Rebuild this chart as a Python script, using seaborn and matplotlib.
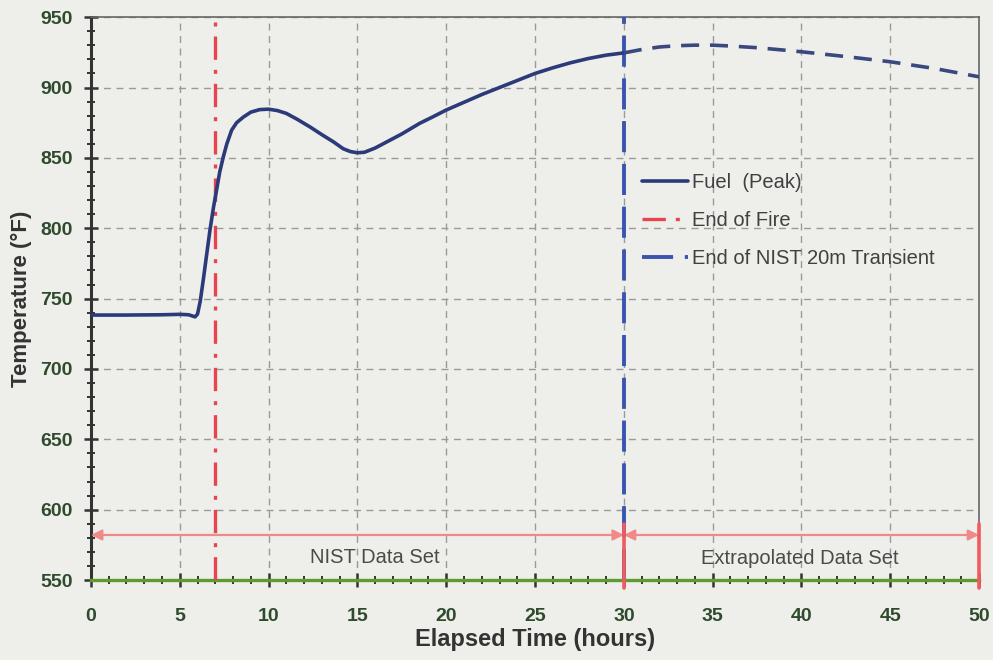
import matplotlib
matplotlib.use("Agg")
import matplotlib.pyplot as plt
from matplotlib.ticker import MultipleLocator
import seaborn as sns
import pandas as pd

# Fuel (Peak) temperature, NIST data portion (0-30 h)
hours_nist = [0, 2, 4, 5, 5.5, 5.86, 6.0, 6.15, 6.32, 6.5, 6.7, 6.9, 7.07, 7.25,
              7.45, 7.65, 7.92, 8.2, 8.58, 9.0, 9.5, 10.0, 10.5, 11.0, 11.6, 12.33,
              13.0, 13.65, 14.2, 14.6, 15.0, 15.4, 16.0, 16.6, 17.5, 18.5, 19.3,
              20, 21, 22, 23, 24, 25, 26, 27, 28, 29, 30]
temp_nist = [738.3, 738.3, 738.5, 738.8, 738.5, 737, 739, 748, 763, 780, 798.7,
             815, 827, 840, 850.7, 860, 869.7, 875, 879, 882.5, 884.3, 884.6,
             883.6, 881.6, 877.5, 872, 866.5, 861.4, 856.5, 854.5, 853.6, 854,
             857, 861, 867, 874.5, 879.5, 884, 889.5, 895, 900, 905, 910, 914,
             917.6, 920.6, 923, 924.6]

# extrapolated portion (30-50 h)
hours_extrap = [30, 31, 32, 33, 34, 35, 36, 37.5, 39, 40, 42.5, 45, 47.5, 50]
temp_extrap = [924.6, 927, 928.8, 929.7, 930.1, 930.1, 929.5, 928.3, 926.6,
               925.4, 922, 918.3, 913.5, 907.6]

end_of_fire = 7
end_of_nist = 30
x_ticks = [0, 5, 10, 15, 20, 25, 30, 35, 40, 45, 50]
y_ticks = [550, 600, 650, 700, 750, 800, 850, 900, 950]

sns.set_style("white")
plt.rcParams['font.family'] = ['Liberation Sans', 'DejaVu Sans']

bg = '#eeefeb'
fig = plt.figure(figsize=(9.93, 6.6), dpi=100, facecolor=bg)
ax = fig.add_axes([0.0916, 0.1212, 0.8944, 0.8528])
ax.set_facecolor(bg)

nist_df = pd.DataFrame({'hours': hours_nist, 'temp': temp_nist})
extrap_df = pd.DataFrame({'hours': hours_extrap, 'temp': temp_extrap})

fuel_color = '#2b3a78'
sns.lineplot(data=nist_df, x='hours', y='temp', ax=ax, color=fuel_color, lw=2.6,
             label='Fuel  (Peak)', zorder=5)
sns.lineplot(data=extrap_df, x='hours', y='temp', ax=ax, color='#3a4880', lw=2.6,
             linestyle=(0, (5, 3)), zorder=5, legend=False)

ax.axvline(end_of_fire, color='#e8434f', lw=2.4, linestyle=(0, (7, 3, 1.2, 3)),
           label='End of Fire', zorder=4)
ax.axvline(end_of_nist, color='#3b54b0', lw=2.8, linestyle=(0, (8, 3)),
           label='End of NIST 20m Transient', zorder=4)

# data set spans
arrow_y = 582
arrow_kw = dict(arrowstyle='<|-|>', color='#f08a8a', lw=1.6, mutation_scale=16,
                shrinkA=0, shrinkB=0)
ax.annotate('', xy=(0, arrow_y), xytext=(end_of_nist, arrow_y), arrowprops=arrow_kw)
ax.annotate('', xy=(end_of_nist, arrow_y), xytext=(50, arrow_y), arrowprops=arrow_kw)
for xv in [end_of_nist, 50]:
    ax.plot([xv, xv], [544, 590], color='#f05a60', lw=2.6, clip_on=False, zorder=6)
ax.text(16, 566, 'NIST Data Set', ha='center', va='center', fontsize=14.5, color='#4a4a4a')
ax.text(39.9, 565, 'Extrapolated Data Set', ha='center', va='center', fontsize=14.5,
        color='#4a4a4a')

ax.set_xlim(0, 50)
ax.set_ylim(550, 950)
ax.set_xticks(x_ticks)
ax.set_yticks(y_ticks)
ax.xaxis.set_minor_locator(MultipleLocator(1))
ax.yaxis.set_minor_locator(MultipleLocator(10))
ax.grid(True, which='major', color='#9a9a9a', linestyle=(0, (5, 4)), lw=1.0)

tick_color = '#2f4a2c'
ax.tick_params(axis='both', which='major', direction='inout', length=10, width=1.8,
               color='#333333', labelsize=14, labelcolor=tick_color, pad=8)
ax.tick_params(axis='x', which='major', pad=15)
ax.tick_params(axis='both', which='minor', direction='inout', length=6, width=1.4,
               color='#333333')
ax.tick_params(axis='x', which='both', bottom=True)
ax.tick_params(axis='y', which='both', left=True)
for lbl in ax.get_xticklabels() + ax.get_yticklabels():
    lbl.set_fontweight('bold')

ax.spines['left'].set_color('#333333')
ax.spines['left'].set_linewidth(2.2)
ax.spines['bottom'].set_color('#5f9a2e')
ax.spines['bottom'].set_linewidth(2.4)
ax.spines['top'].set_color('#666666')
ax.spines['top'].set_linewidth(1.2)
ax.spines['right'].set_color('#666666')
ax.spines['right'].set_linewidth(1.2)

ax.set_xlabel('Elapsed Time (hours)', fontsize=17, fontweight='bold', color='#333333',
              labelpad=2)
ax.set_ylabel('Temperature (°F)', fontsize=16, fontweight='bold', color='#333333',
              labelpad=6)

leg = ax.legend(loc='upper left', bbox_to_anchor=(0.6, 0.755), frameon=False,
                fontsize=14.5, handlelength=2.3, handletextpad=0.2, labelspacing=0.95)
for t in leg.get_texts():
    t.set_color('#404040')

fig.savefig('out.png', dpi=100, facecolor=bg)
